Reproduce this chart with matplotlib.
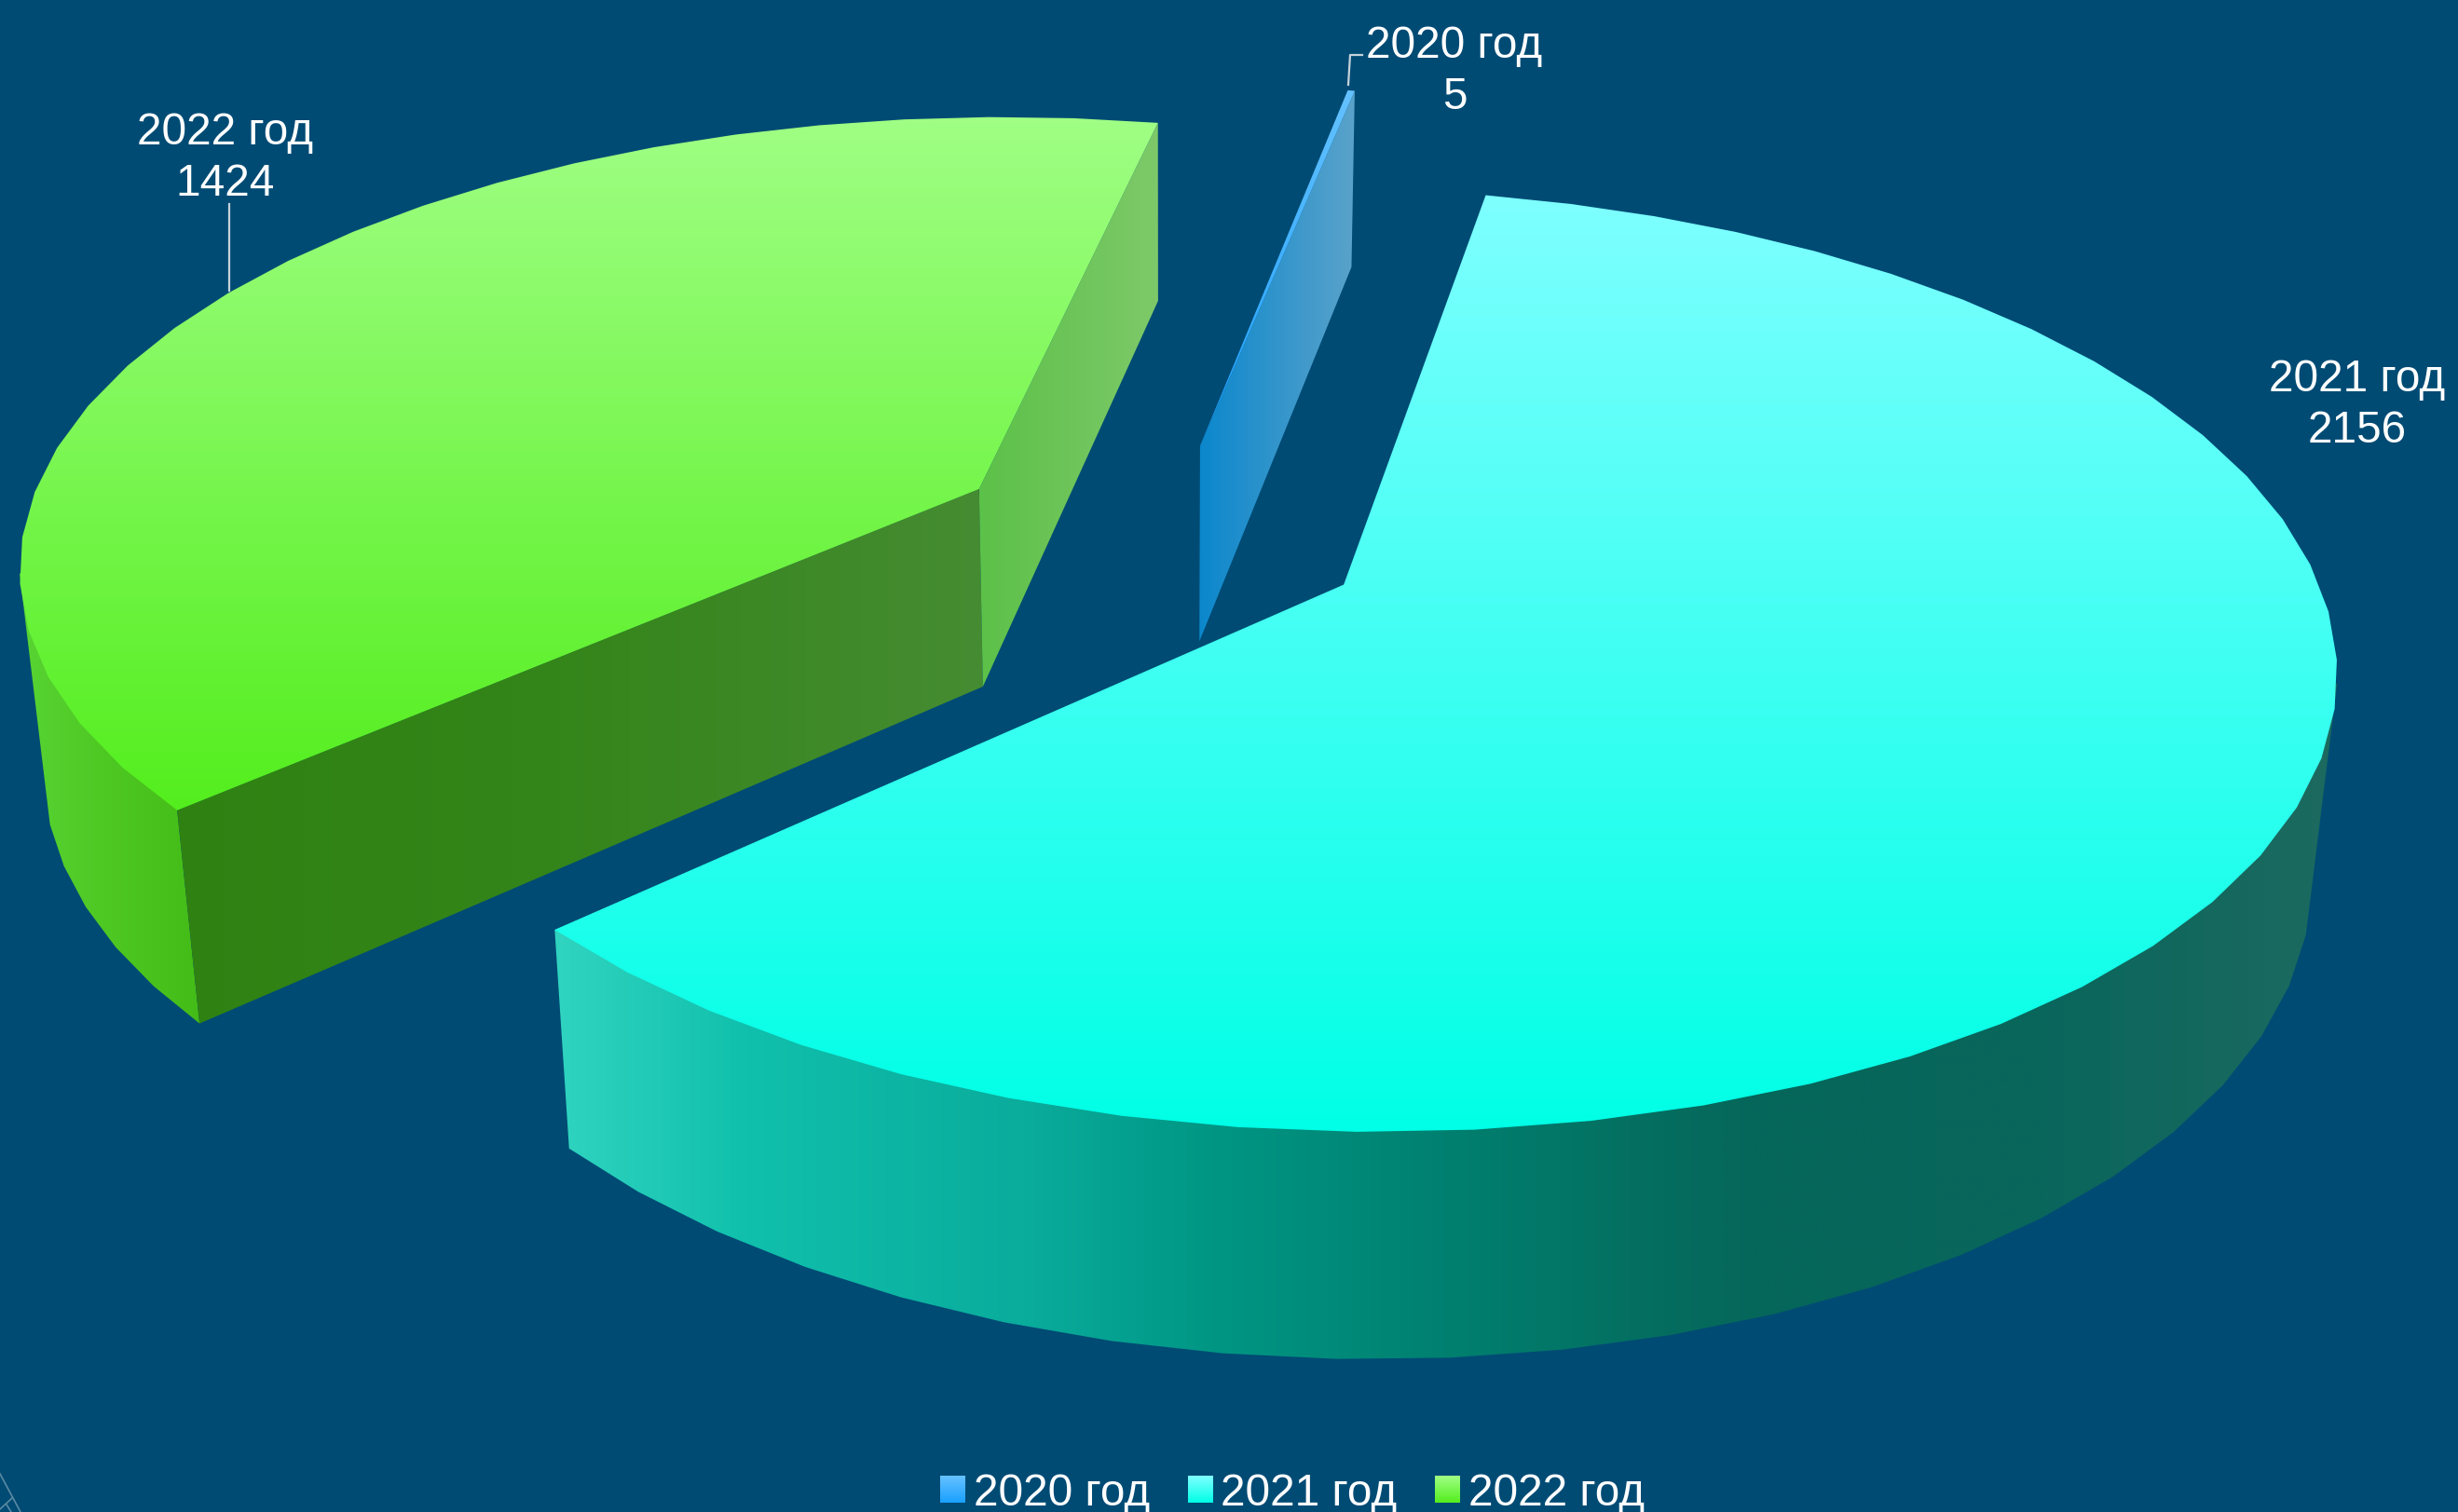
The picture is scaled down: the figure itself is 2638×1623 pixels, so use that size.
import numpy as np
import matplotlib
matplotlib.use("Agg")
import matplotlib.pyplot as plt
from matplotlib.patches import Polygon, Patch
from matplotlib.image import BboxImage
from matplotlib.transforms import Bbox, TransformedBbox
from matplotlib.legend_handler import HandlerBase

categories = ["2020 год", "2021 год", "2022 год"]
values = [5, 2156, 1424]
explode = [0.215, 0.215, 0.222]

top_colors = [((102, 194, 255), (26, 160, 255)),
              ((127, 255, 255), (0, 255, 230)),
              ((160, 255, 133), (84, 238, 30))]
BG = "#004B74"
plt.rcParams["font.family"] = ["Liberation Sans", "DejaVu Sans"]

# camera of the 3D pie
START = 10.9
CX, CY, A, B, K = 1246.5, 577.0, 1029.5, 477.0, 0.1574
VX, VY, Q = 1253.0, 11000.0, 0.0206
STEP = 6.0
FS = 34.4


def top_pt(u, v):
    w = 1 + K * v
    return np.column_stack([CX + A * u / w, CY - B * v / w])


def bot_pt(u, v):
    p = top_pt(u, v)
    t = (Q / (1 + K * v))[:, None]
    return p + (np.array([VX, VY]) - p) * t


def rim(a0, a1, off):
    n = max(int(np.ceil((a1 - a0) / STEP)), 1)
    th = np.radians(np.linspace(a0, a1, n + 1))
    return np.sin(th) + off[0], np.cos(th) + off[1]


fig = plt.figure(figsize=(26.38, 16.24), dpi=100, facecolor=BG)
ax = fig.add_axes([0, 0, 1, 1])
ax.set_facecolor(BG)
ax.axis("off")


def grad_fill(verts, stops, horizontal=False, z=1):
    verts = np.asarray(verts)
    x0, y0 = verts.min(axis=0)
    x1, y1 = verts.max(axis=0)
    pos = np.array([s[0] for s in stops], float)
    cols = np.array([s[1] for s in stops], float) / 255
    if horizontal:
        lin = np.linspace(x0, x1, 400)
        arr = np.stack([np.interp(lin, pos, cols[:, i]) for i in range(3)], -1)[None, :, :]
    else:
        lin = np.linspace(y0, y1, 400)
        arr = np.stack([np.interp(lin, pos, cols[:, i]) for i in range(3)], -1)[:, None, :]
    poly = Polygon(verts, closed=True, transform=ax.transData, fc="none", ec="none")
    ax.add_patch(poly)
    im = ax.imshow(arr, extent=(x0, x1, y1, y0), origin="upper", aspect="auto",
                   interpolation="bilinear", zorder=z)
    im.set_clip_path(poly)
    return im


cum = np.cumsum([0] + values) / sum(values) * 360 + START
spans = {c: (cum[i], cum[i + 1]) for i, c in enumerate(categories)}
offs = {}
for c, e in zip(categories, explode):
    mid = np.radians(sum(spans[c]) / 2)
    offs[c] = np.array([e * np.sin(mid), e * np.cos(mid)])


def apex(c):
    o = offs[c]
    ou, ov = np.array([o[0]]), np.array([o[1]])
    return top_pt(ou, ov), bot_pt(ou, ov)


# 2022 slice
c = "2022 год"
a0, a1 = spans[c]
rim_t = top_pt(*rim(a0, a1, offs[c]))
rim_b = bot_pt(*rim(a0, a1, offs[c]))
a_t, a_b = apex(c)
edge_t = top_pt(*rim(259.0, 259.0, offs[c]))[:1]
wall_b = bot_pt(*rim(a0, 253.0, offs[c]))
grad_fill(np.vstack([a_t, edge_t, wall_b[::-1], rim_t[:1]]),
          [(20, (88, 212, 52)), (110, (78, 200, 35)), (215, (68, 188, 24))], True, 1)
grad_fill(np.vstack([rim_t[:1], a_t, a_b, rim_b[:1]]),
          [(190, (47, 130, 18)), (600, (52, 133, 26)), (1055, (70, 140, 50))], True, 2)
grad_fill(np.vstack([a_t, rim_t[-1:], rim_b[-1:], a_b]),
          [(1050, (92, 193, 72)), (1245, (126, 201, 106))], True, 2)
grad_fill(np.vstack([a_t, rim_t]),
          [(123, top_colors[2][0]), (868, top_colors[2][1])], False, 3)

# 2020 slice
c = "2020 год"
a0, a1 = spans[c]
rim_t = top_pt(*rim(a0, a1, offs[c]))
rim_b = bot_pt(*rim(a0, a1, offs[c]))
a_t, a_b = apex(c)
grad_fill(np.vstack([a_t, rim_t[-1:], rim_b[-1:], a_b]),
          [(1285, (10, 135, 205)), (1450, (88, 162, 202))], True, 4)
grad_fill(np.vstack([a_t, rim_t]),
          [(92, top_colors[0][0]), (476, top_colors[0][1])], False, 5)

# 2021 slice
c = "2021 год"
a0, a1 = spans[c]
rim_t = top_pt(*rim(a0, a1, offs[c]))
a_t, a_b = apex(c)
edge_t = top_pt(*rim(102.0, 102.0, offs[c]))[:1]
wall_b = bot_pt(*rim(107.0, a1, offs[c]))
grad_fill(np.vstack([a_t, edge_t, wall_b, rim_t[-1:]]),
          [(597, (48, 212, 192)), (800, (16, 192, 172)), (1100, (10, 172, 156)),
           (1300, (0, 150, 132)), (1550, (0, 128, 112)), (1800, (5, 108, 94)),
           (1900, (5, 102, 90)), (2200, (10, 102, 92)), (2500, (28, 106, 96))], True, 6)
grad_fill(np.vstack([a_t, rim_t]),
          [(205, top_colors[1][0]), (1214, top_colors[1][1])], False, 7)

# leader lines
lead = "#C4D2DA"
ax.plot([245.5, 245.5], [220, 313], color=lead, lw=1.6, zorder=8)
ax.plot([1447, 1449, 1462], [92, 60, 60], color=lead, lw=1.6, zorder=8)

# faint marks in the lower-left corner
faint = "#5A8AA3"
ax.plot([0, 22], [1583, 1624], color=faint, lw=1.2, zorder=0)
ax.plot([13, 0], [1609, 1621], color=faint, lw=1.2, zorder=0)
ax.plot([7, 12], [1616, 1624], color=faint, lw=1.2, zorder=0)

# data labels
label_xy = [(1561, 77), (2530, 435), (242, 170)]
for c, val, (lx, ly) in zip(categories, values, label_xy):
    ax.text(lx, ly, f"{c}\n{val}", color="white", fontsize=FS, ha="center", va="center",
            linespacing=1.3, zorder=9)


class GradHandler(HandlerBase):
    def __init__(self, pair):
        super().__init__()
        self.pair = pair

    def create_artists(self, legend, orig_handle, xdescent, ydescent, width, height, fontsize, trans):
        c0, c1 = np.array(self.pair[0]) / 255, np.array(self.pair[1]) / 255
        arr = np.linspace(c0, c1, 64)[:, None, :]
        bb = TransformedBbox(Bbox([[-xdescent, -ydescent], [width - xdescent, height - ydescent]]), trans)
        im = BboxImage(bb, interpolation="bilinear", origin="upper")
        im.set_data(arr)
        return [im]


handles = [Patch(label=c) for c in categories]
leg = ax.legend(handles=handles, ncols=3, loc="lower center",
                bbox_to_anchor=(1387 / 2638, -0.003), frameon=False, fontsize=FS,
                labelcolor="white", handlelength=0.55, handleheight=0.54, handletextpad=0.2,
                columnspacing=0.85, borderpad=0, borderaxespad=0.05,
                handler_map={h: GradHandler(top_colors[i]) for i, h in enumerate(handles)})

ax.set_xlim(0, 2638)
ax.set_ylim(1624, 0)
fig.savefig("out.png", dpi=100, facecolor=BG)
